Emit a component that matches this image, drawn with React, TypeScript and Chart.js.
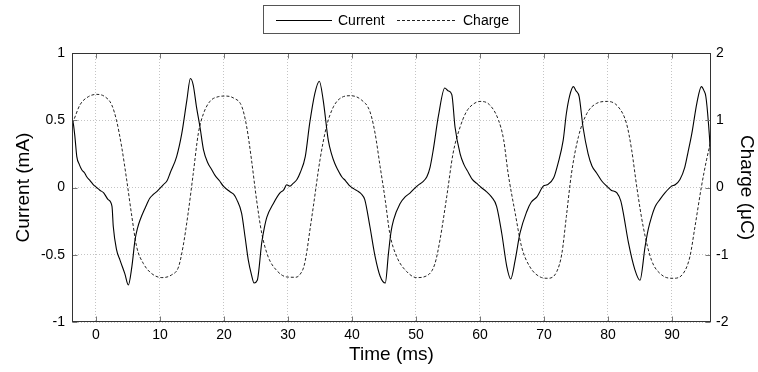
import { useEffect, useRef } from "react";
import { Chart, registerables } from "chart.js";

Chart.register(...registerables);

// ---- data ----
const currentTime = [
  -3.75, -3.6, -3.3, -3.0, -2.6, -2.2, -1.8, -1.45, -0.9, -0.4, 0.1, 0.6, 1.2, 1.9, 2.5, 2.7, 3.2, 3.75, 4.5, 5.05,
  5.6, 6.1, 6.5, 6.9, 7.7, 8.4, 9.0, 9.5, 10.5, 11.1, 11.6, 12.6, 13.4, 14.2, 14.75, 15.2, 15.7, 16.25, 16.8, 17.5,
  18.0, 18.6, 19.3, 19.9, 20.9, 21.5, 22.0, 22.75, 23.3, 23.8, 24.3, 24.7, 25.2, 25.9, 26.3, 26.7, 27.7, 28.75, 29.3, 29.8,
  30.3, 30.8, 31.4, 31.9, 32.7, 33.4, 34.2, 34.9, 35.5, 36.3, 36.8, 37.3, 37.8, 38.4, 39.0, 39.7, 40.3, 41.0, 41.5, 42.0,
  42.8, 43.6, 44.4, 45.2, 45.7, 46.1, 46.5, 47.5, 48.3, 49.1, 49.7, 50.4, 51.0, 51.7, 52.2, 52.7, 53.5, 54.5, 55.0, 55.6,
  56.1, 56.9, 57.5, 58.2, 58.8, 59.5, 60.2, 61.0, 61.8, 62.6, 63.4, 64.2, 64.8, 65.5, 66.25, 67.3, 68.0, 68.9, 69.9, 70.5,
  71.5, 72.2, 73.0, 73.5, 74.0, 74.6, 75.0, 75.5, 76.1, 76.9, 77.5, 78.2, 79.0, 79.8, 80.5, 81.4, 82.0, 82.4, 83.2, 84.2,
  85.0, 85.8, 86.3, 86.8, 87.4, 88.1, 88.9, 89.95, 90.5, 91.25, 92.0, 92.5, 93.1, 93.9, 94.6, 95.0, 95.3, 95.7, 95.95, 96.1,
];
const currentValues = [
  0.5, 0.49, 0.38, 0.23, 0.17, 0.13, 0.11, 0.08, 0.05, 0.02, 0.0, -0.02, -0.04, -0.09, -0.14, -0.29, -0.46, -0.54, -0.64, -0.725,
  -0.59, -0.39, -0.3, -0.24, -0.15, -0.08, -0.05, -0.03, 0.02, 0.05, 0.11, 0.23, 0.4, 0.65, 0.81, 0.76, 0.6, 0.45, 0.28, 0.18,
  0.14, 0.09, 0.05, 0.01, -0.03, -0.05, -0.09, -0.19, -0.37, -0.54, -0.65, -0.71, -0.69, -0.41, -0.3, -0.22, -0.12, -0.04, -0.02, 0.02,
  0.01, 0.03, 0.06, 0.11, 0.23, 0.48, 0.7, 0.79, 0.65, 0.35, 0.25, 0.18, 0.13, 0.08, 0.05, 0.01, -0.01, -0.03, -0.05, -0.09,
  -0.29, -0.51, -0.66, -0.71, -0.49, -0.33, -0.24, -0.12, -0.07, -0.04, -0.01, 0.02, 0.04, 0.08, 0.15, 0.28, 0.53, 0.74, 0.72, 0.69,
  0.45, 0.25, 0.17, 0.11, 0.06, 0.03, 0.0, -0.03, -0.07, -0.14, -0.34, -0.59, -0.68, -0.54, -0.34, -0.18, -0.11, -0.07, 0.01, 0.02,
  0.07, 0.18, 0.35, 0.55, 0.68, 0.75, 0.72, 0.675, 0.45, 0.25, 0.16, 0.11, 0.05, 0.01, -0.02, -0.04, -0.1, -0.19, -0.41, -0.61,
  -0.69, -0.44, -0.31, -0.22, -0.14, -0.09, -0.04, 0.01, 0.02, 0.06, 0.15, 0.26, 0.4, 0.63, 0.75, 0.72, 0.675, 0.48, 0.3, 0.1,
];

const chargeTime = [
  -3.75, -3.6, -2.5, -1.2, 0.1, 1.4, 2.45, 3.2, 4.0, 4.8, 5.6, 6.35, 7.4, 8.7, 10.3, 11.8, 12.9, 13.6, 14.4, 15.2,
  16.0, 16.8, 17.8, 19.1, 20.2, 21.5, 22.8, 23.55, 24.3, 25.1, 25.9, 26.9, 28.2, 29.8, 31.2, 31.9, 32.5, 32.9, 33.4, 33.95,
  35.0, 36.0, 37.1, 38.4, 39.8, 41.5, 42.8, 43.6, 44.4, 45.2, 45.9, 47.0, 48.55, 50.1, 51.9, 52.97, 53.75, 54.8, 55.8, 56.9,
  57.9, 58.95, 60.0, 61.5, 62.9, 63.7, 64.4, 65.5, 66.5, 67.8, 69.4, 70.6, 72.0, 72.8, 73.5, 74.3, 75.4, 76.7, 78.2, 79.9,
  81.6, 82.9, 83.7, 84.5, 85.5, 86.8, 88.4, 90.2, 91.75, 92.8, 93.6, 94.6, 95.4, 96.1,
];
const chargeValues = [
  0.96, 0.98, 1.23, 1.35, 1.385, 1.35, 1.23, 1.0, 0.61, 0.11, -0.43, -0.88, -1.13, -1.28, -1.34, -1.3, -1.18, -0.88, -0.38, 0.21,
  0.81, 1.1, 1.28, 1.35, 1.36, 1.33, 1.2, 0.9, 0.41, -0.19, -0.68, -1.03, -1.23, -1.33, -1.335, -1.29, -1.17, -0.98, -0.65, -0.29,
  0.41, 0.9, 1.2, 1.34, 1.365, 1.3, 1.13, 0.81, 0.31, -0.19, -0.68, -1.03, -1.25, -1.34, -1.3, -1.13, -0.78, -0.14, 0.51, 0.9,
  1.13, 1.24, 1.28, 1.23, 1.0, 0.71, 0.21, -0.38, -0.88, -1.18, -1.33, -1.35, -1.25, -0.98, -0.43, 0.21, 0.76, 1.1, 1.25, 1.28,
  1.2, 0.95, 0.56, 0.01, -0.58, -1.08, -1.3, -1.35, -1.28, -1.03, -0.58, 0.01, 0.41, 0.7,
];

const timeTicks = [0, 10, 20, 30, 40, 50, 60, 70, 80, 90];
const currentTicks = [-1, -0.5, 0, 0.5, 1];
const chargeTicks = [-2, -1, 0, 1, 2];
const seriesLabels = ["Current", "Charge"];
const xTitle = "Time (ms)";
const yLeftTitle = "Current (mA)";
const yRightTitle = "Charge (\u03bcC)";

const FONT = "'Liberation Sans', Arial, sans-serif";

const framePlugin = {
  id: "frameTicks",
  afterDatasetsDraw(chart: any) {
    const { ctx, chartArea: a, scales } = chart;
    const L = Math.round(a.left) + 0.5;
    const R = Math.round(a.right) - 0.5;
    const T = Math.round(a.top) + 0.5;
    const B = Math.round(a.bottom) - 0.5;
    ctx.save();
    ctx.lineWidth = 1;
    ctx.strokeStyle = "#777";
    const tl = 5;
    ctx.beginPath();
    timeTicks.forEach((v) => {
      const x = Math.round(scales.x.getPixelForValue(v)) + 0.5;
      ctx.moveTo(x, B);
      ctx.lineTo(x, B - tl);
      ctx.moveTo(x, T);
      ctx.lineTo(x, T + tl);
    });
    currentTicks.forEach((v) => {
      const y = Math.round(scales.y.getPixelForValue(v)) + 0.5;
      ctx.moveTo(L, y);
      ctx.lineTo(L + tl, y);
    });
    chargeTicks.forEach((v) => {
      const y = Math.round(scales.y1.getPixelForValue(v)) + 0.5;
      ctx.moveTo(R, y);
      ctx.lineTo(R - tl, y);
    });
    ctx.stroke();
    ctx.strokeStyle = "#333";
    ctx.strokeRect(L, T, R - L, B - T);
    ctx.restore();
  },
  afterDraw(chart: any) {
    const { ctx } = chart;
    ctx.save();
    ctx.lineWidth = 1;
    ctx.strokeStyle = "#555";
    ctx.strokeRect(263.5, 5.5, 256, 28);
    ctx.strokeStyle = "#000";
    ctx.beginPath();
    ctx.moveTo(276, 20.5);
    ctx.lineTo(332, 20.5);
    ctx.stroke();
    ctx.strokeStyle = "#222";
    ctx.setLineDash([3, 2]);
    ctx.beginPath();
    ctx.moveTo(397, 20.5);
    ctx.lineTo(455, 20.5);
    ctx.stroke();
    ctx.setLineDash([]);
    ctx.fillStyle = "#000";
    ctx.font = `14px ${FONT}`;
    ctx.textBaseline = "middle";
    ctx.textAlign = "left";
    ctx.fillText(seriesLabels[0], 338, 21);
    ctx.fillText(seriesLabels[1], 463, 21);
    ctx.restore();
  },
};

export default function App() {
  const ref = useRef<HTMLCanvasElement | null>(null);
  useEffect(() => {
    if (!ref.current) return;
    const chart = new Chart(ref.current, {
      type: "line",
      data: {
        datasets: [
          {
            label: seriesLabels[0],
            data: currentTime.map((t, i) => ({ x: t, y: currentValues[i] })),
            yAxisID: "y",
            borderColor: "#000",
            borderWidth: 1.1,
            pointRadius: 0,
            cubicInterpolationMode: "monotone",
          },
          {
            label: seriesLabels[1],
            data: chargeTime.map((t, i) => ({ x: t, y: chargeValues[i] })),
            yAxisID: "y1",
            borderColor: "#222",
            borderWidth: 1,
            borderDash: [3, 2],
            pointRadius: 0,
            cubicInterpolationMode: "monotone",
          },
        ],
      },
      options: {
        animation: false,
        responsive: false,
        events: [],
        layout: { padding: { top: 53, left: 0, right: 0, bottom: 0 } },
        plugins: { legend: { display: false }, tooltip: { enabled: false } },
        scales: {
          x: {
            type: "linear",
            min: -3.75,
            max: 96.1,
            afterFit: (s: any) => {
              s.height = 50;
            },
            ticks: {
              stepSize: 10,
              includeBounds: false,
              color: "#000",
              padding: 5,
              maxRotation: 0,
              font: { family: FONT, size: 14 },
              callback: (v: any) => String(v),
            },
            grid: { color: "#c4c4c4", drawTicks: false, lineWidth: 1 },
            border: { display: false, dash: [1, 2] },
            title: {
              display: true,
              text: xTitle,
              color: "#000",
              font: { family: FONT, size: 19 },
              padding: { top: 0, bottom: 6 },
            },
          },
          y: {
            type: "linear",
            position: "left",
            min: -1,
            max: 1,
            afterFit: (s: any) => {
              s.width = 72;
            },
            ticks: {
              stepSize: 0.5,
              color: "#000",
              padding: 7,
              font: { family: FONT, size: 14 },
              callback: (v: any) => String(v),
            },
            grid: { color: "#c4c4c4", drawTicks: false, lineWidth: 1 },
            border: { display: false, dash: [1, 2] },
            title: {
              display: true,
              text: yLeftTitle,
              color: "#000",
              font: { family: FONT, size: 19 },
              padding: { top: 12, bottom: 0 },
            },
          },
          y1: {
            type: "linear",
            position: "right",
            min: -2,
            max: 2,
            afterFit: (s: any) => {
              s.width = 47;
            },
            ticks: {
              stepSize: 1,
              color: "#000",
              padding: 5,
              font: { family: FONT, size: 14 },
              callback: (v: any) => String(v),
            },
            grid: { display: false, drawTicks: false },
            border: { display: false },
            title: {
              display: true,
              text: yRightTitle,
              color: "#000",
              font: { family: FONT, size: 19 },
              padding: { top: 0, bottom: 0 },
            },
          },
        },
      },
      plugins: [framePlugin],
    } as any);
    return () => chart.destroy();
  }, []);
  return (
    <div style={{ position: "fixed", left: 0, top: 0, width: 758, height: 372, background: "#fff" }}>
      <canvas ref={ref} width={758} height={372} style={{ width: 758, height: 372, display: "block" }} />
    </div>
  );
}
